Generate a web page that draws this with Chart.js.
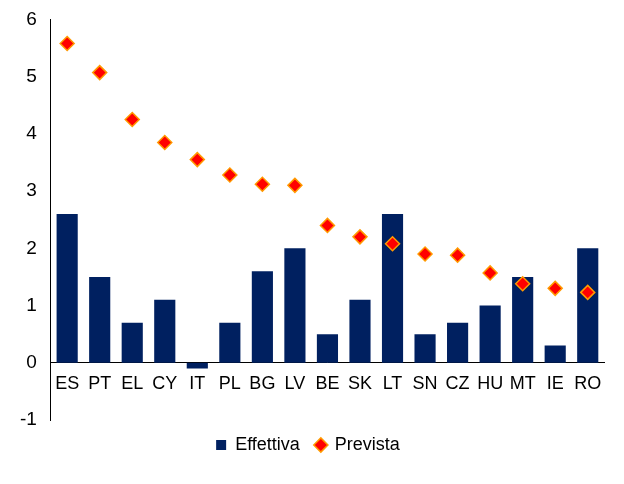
<!DOCTYPE html>
<html>
<head>
<meta charset="utf-8">
<script src="https://cdn.jsdelivr.net/npm/chart.js@4"></script>
<style>
  html, body { margin: 0; padding: 0; background: #fff; }
  #wrap { width: 624px; height: 484px; }
</style>
</head>
<body>
<div id="wrap"><canvas id="chart"></canvas></div>
<script>
const categories = ['ES','PT','EL','CY','IT','PL','BG','LV','BE','SK','LT','SN','CZ','HU','MT','IE','RO'];
const effettiva = [2.6, 1.5, 0.7, 1.1, -0.1, 0.7, 1.6, 2.0, 0.5, 1.1, 2.6, 0.5, 0.7, 1.0, 1.5, 0.3, 2.0];
const prevista = [5.58, 5.07, 4.25, 3.85, 3.55, 3.28, 3.12, 3.1, 2.4, 2.2, 2.08, 1.9, 1.88, 1.57, 1.38, 1.3, 1.23];

const font = { family: 'Liberation Sans, Arial, sans-serif', size: 18 };

new Chart(document.getElementById('chart'), {
  data: {
    labels: categories,
    datasets: [
      { type: 'scatter', label: 'Prevista', data: prevista, pointStyle: 'rectRot', pointRadius: 7,
        backgroundColor: '#ff0000', borderColor: '#ff9900', borderWidth: 1.5, order: 0 },
      { type: 'bar', label: 'Effettiva', data: effettiva, backgroundColor: '#002060',
        categoryPercentage: 1, barPercentage: 0.65, order: 1 }
    ]
  },
  options: {
    responsive: true, maintainAspectRatio: false, animation: false,
    layout: { padding: { left: 12, right: 20, top: 18, bottom: 20 } },
    plugins: {
      legend: {
        position: 'bottom',
        labels: { font: font, color: '#404040', usePointStyle: true, boxWidth: 10, boxHeight: 10, padding: 16,
          generateLabels: chart => chart.data.datasets.map((ds, i) => ({
            text: ds.label, fillStyle: ds.backgroundColor, strokeStyle: ds.borderColor,
            lineWidth: ds.type === 'bar' ? 0 : 1.5, pointStyle: ds.type === 'bar' ? 'rect' : 'rectRot',
            datasetIndex: i, hidden: false
          })).reverse()
        }
      },
      tooltip: { enabled: false }
    },
    scales: {
      x: {
        type: 'category', offset: true, position: { y: 0 },
        grid: { display: false, drawTicks: false },
        border: { color: '#000', width: 1 },
        ticks: { font: font, color: '#000', padding: 10, maxRotation: 0, autoSkip: false }
      },
      y: {
        min: -1, max: 6,
        grid: { display: false, drawTicks: true, tickLength: 6 },
        border: { color: '#000', width: 1 },
        ticks: { font: { family: font.family, size: 19 }, color: '#000', stepSize: 1, padding: 8 }
      }
    }
  }
});
</script>
</body>
</html>
